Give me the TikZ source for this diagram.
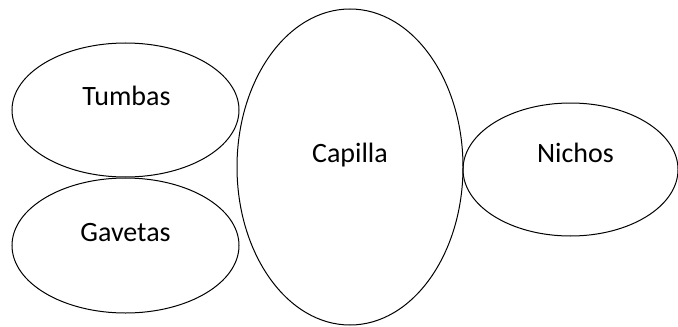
\documentclass[tikz,border=0pt]{standalone}
\usepackage{fontspec}
\setmainfont{Carlito}
\usepackage{tikz}
\usetikzlibrary{shapes.geometric,positioning}

\begin{document}
\begin{tikzpicture}[
    x=0.5pt, y=-0.5pt,          % One unit is one pixel of the sketch.
    area/.style={               % Ellipses denoting the areas.
      ellipse,
      draw,
      line width=0.5pt,
      inner sep=0pt
    },
    lbl/.style={                % Styling of label text.
      font=\fontsize{14}{17}\selectfont,
      anchor=base,
      inner sep=0pt
    }]

    \useasboundingbox (0,0) rectangle (678,326);

    % Depict the areas.
    \node[area,minimum width=113.5pt,minimum height=67pt]  (tumbas)  at (125.5,110) {};
    \node[area,minimum width=113.5pt,minimum height=67.5pt] (gavetas) at (125.5,245.5) {};
    \node[area,minimum width=113pt,minimum height=158pt]   (capilla) at (350,167) {};
    \node[area,minimum width=107.5pt,minimum height=66.5pt] (nichos)  at (570.5,169.5) {};

    % Name the areas.
    \node[lbl] (ltumbas)  at ([shift={(1,-4.5)}] tumbas.center)  {Tumbas};
    \node[lbl] (lgavetas) at ([shift={(0,-4.5)}] gavetas.center) {Gavetas};
    \node[lbl] (lcapilla) at ([shift={(0,-5)}] capilla.center)   {Capilla};
    \node[lbl] (lnichos)  at ([shift={(5,-7)}] nichos.center)    {Nichos};
  \end{tikzpicture}
\end{document}
